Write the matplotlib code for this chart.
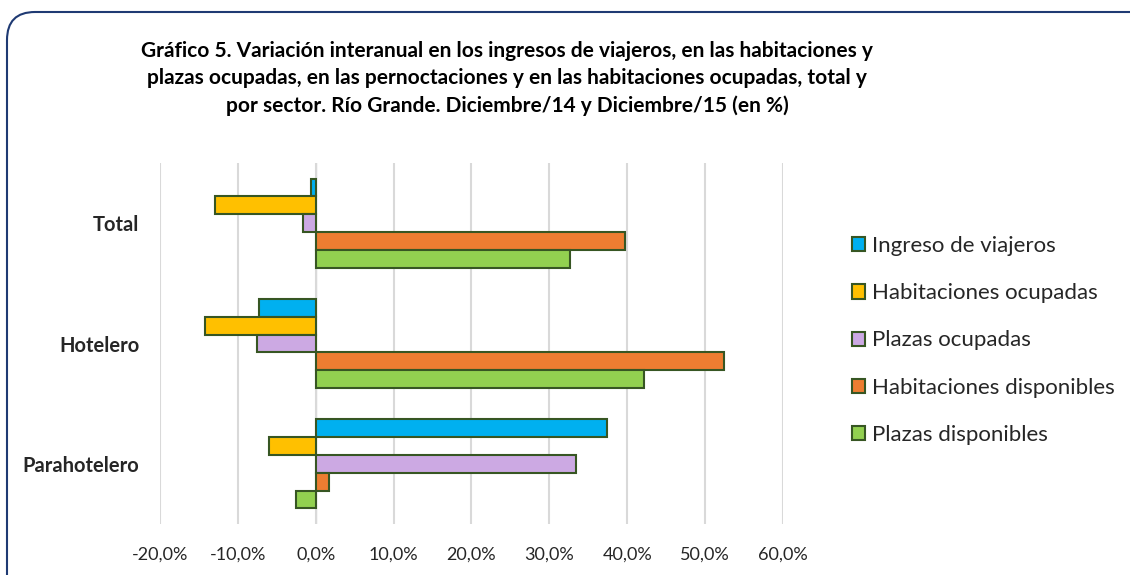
import matplotlib
matplotlib.use("Agg")
import matplotlib.pyplot as plt
import numpy as np
from matplotlib.patches import FancyBboxPatch
from matplotlib.ticker import FuncFormatter

plt.rcParams['font.family'] = ['Lato', 'DejaVu Sans']

sectores = ['Total', 'Hotelero', 'Parahotelero']
series = ['Ingreso de viajeros', 'Habitaciones ocupadas', 'Plazas ocupadas',
          'Habitaciones disponibles', 'Plazas disponibles']
ingreso = [-0.6, -7.3, 37.4]
hab_ocup = [-12.9, -14.2, -6.0]
plazas_ocup = [-1.6, -7.6, 33.4]
hab_disp = [39.7, 52.4, 1.7]
plazas_disp = [32.6, 42.1, -2.5]
colores = ['#00B0F0', '#FFC000', '#CCA9E3', '#ED7D31', '#92D050']

titulo = ("Gráfico 5. Variación interanual en los ingresos de viajeros, en las habitaciones y\n"
          "plazas ocupadas, en las pernoctaciones y en las habitaciones ocupadas, total y\n"
          "por sector. Río Grande. Diciembre/14 y Diciembre/15 (en %)")

fig = plt.figure(figsize=(11.3, 5.75), dpi=100)
ax = fig.add_axes([0.1416, 0.0887, 0.5513, 0.6278])

valores = [ingreso, hab_ocup, plazas_ocup, hab_disp, plazas_disp]
y = np.arange(len(sectores))
h = 0.148
for i, (vals, nombre, col) in enumerate(zip(valores, series, colores)):
    ax.barh(y + (i - 2) * h, vals, height=h, color=col, edgecolor='#375623',
            linewidth=1.5, label=nombre, zorder=3)

ax.set_xlim(-20, 60)
ax.set_ylim(2.5, -0.5)
ax.set_xticks(np.arange(-20, 61, 10))
ax.xaxis.set_major_formatter(FuncFormatter(lambda v, p: f"{v:.1f}%".replace('.', ',')))
ax.set_yticks(y)
ax.set_yticklabels(sectores, fontweight='bold', fontsize=14.5)
ax.tick_params(axis='both', length=0, colors='#262626')
ax.tick_params(axis='x', pad=16, labelsize=13)
ax.tick_params(axis='y', pad=15)
ax.grid(axis='x', color='#D9D9D9', linewidth=1.5, zorder=0)
for s in ax.spines.values():
    s.set_visible(False)
ax.axvline(0, color='#D9D9D9', linewidth=1, zorder=1)

leg = fig.legend(loc='upper left', bbox_to_anchor=(0.736, 0.624), frameon=False,
                 fontsize=16, handlelength=0.6, handleheight=0.6,
                 handletextpad=0.3, labelspacing=1.22)
for t in leg.get_texts():
    t.set_color('#262626')

fig.text(0.449, 0.863, titulo, ha='center', va='center', fontsize=15,
         fontweight='bold', linespacing=1.45)

borde = FancyBboxPatch((7, -40), 1160, 603, boxstyle='round,pad=0,rounding_size=28',
                       transform=None, facecolor='none', edgecolor='#1F3A73',
                       linewidth=1.5)
fig.patches.append(borde)

fig.savefig('out.png', dpi=100)
